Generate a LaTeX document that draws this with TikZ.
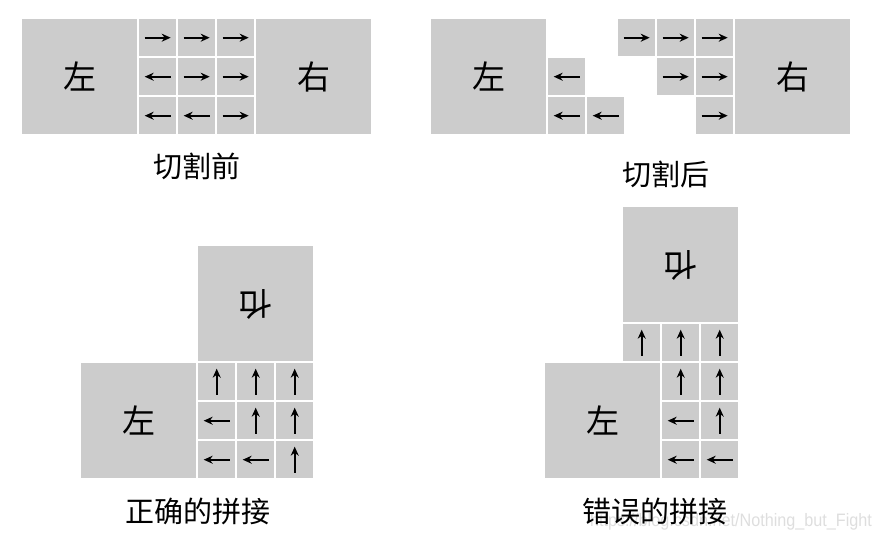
\documentclass[tikz,border=0pt]{standalone}
\usepackage{fontspec}
\usepackage{graphicx}
\setmainfont{Liberation Sans}
\newfontfamily\cjk{Noto Sans CJK SC}
\usetikzlibrary{arrows.meta}
\definecolor{boxgray}{RGB}{204,204,204}
\definecolor{wmgray}{RGB}{222,222,222}
\tikzset{
  big/.style={fill=boxgray, draw=none, minimum size=115pt, inner sep=0pt, anchor=north west,
              font=\cjk\fontsize{33}{33}\selectfont},
  cellbox/.style={fill=boxgray, draw=none, minimum size=37pt, inner sep=0pt, anchor=north west},
  arr/.style={line width=2.3pt, -{Stealth[length=9pt,width=8pt]}},
  captext/.style={font=\cjk\fontsize{29}{29}\selectfont, inner sep=0pt},
  wm/.style={font=\fontsize{18}{18}\selectfont, text=wmgray, inner sep=0pt},
}
\newcommand\cellR[3]{\node[cellbox] (#1) at (#2,#3) {};
  \draw[arr] ([xshift=-13pt]#1.center) -- ([xshift=13pt]#1.center);}
\newcommand\cellL[3]{\node[cellbox] (#1) at (#2,#3) {};
  \draw[arr] ([xshift=13pt]#1.center) -- ([xshift=-13pt]#1.center);}
\newcommand\cellU[3]{\node[cellbox] (#1) at (#2,#3) {};
  \draw[arr] ([yshift=-13pt]#1.center) -- ([yshift=13pt]#1.center);}
\newcommand\flipyou{\reflectbox{\rotatebox{90}{右}}}
\begin{document}
\begin{tikzpicture}[x=1pt,y=-1pt]
\useasboundingbox (0,0) rectangle (882,541);
% ---- before cutting
\node[big] (tlL) at (22,19) {左};
\cellR{tla}{139}{19} \cellR{tlb}{178}{19} \cellR{tlc}{217}{19}
\cellL{tld}{139}{58} \cellR{tle}{178}{58} \cellR{tlf}{217}{58}
\cellL{tlg}{139}{97} \cellL{tlh}{178}{97} \cellR{tli}{217}{97}
\node[big] (tlR) at (256,19) {右};
\node[captext] (cap1) at (197,166) {切割前};
% ---- after cutting
\node[big] (trL) at (431,19) {左};
\cellL{trd}{548}{58} \cellL{trg}{548}{97} \cellL{trh}{587}{97}
\cellR{tra}{618}{19} \cellR{trb}{657}{19} \cellR{trc}{696}{19}
\cellR{tre}{657}{58} \cellR{trf}{696}{58} \cellR{tri}{696}{97}
\node[big] (trR) at (735,19) {右};
\node[captext] (cap2) at (666,174) {切割后};
% ---- correct stitching
\node[big] (blR) at (198,246) {\flipyou};
\node[big] (blL) at (81,363) {左};
\cellU{bla}{198}{363} \cellU{blb}{237}{363} \cellU{blc}{276}{363}
\cellL{bld}{198}{402} \cellU{ble}{237}{402} \cellU{blf}{276}{402}
\cellL{blg}{198}{441} \cellL{blh}{237}{441} \cellU{bli}{276}{441}
\node[captext] (cap3) at (198,511) {正确的拼接};
% ---- wrong stitching
\node[big] (brR) at (623,207) {\flipyou};
\cellU{bra}{623}{324} \cellU{brb}{662}{324} \cellU{brc}{701}{324}
\node[big] (brL) at (545,363) {左};
\cellU{bre}{662}{363} \cellU{brf}{701}{363}
\cellL{brh}{662}{402} \cellU{bri}{701}{402}
\cellL{brk}{662}{441} \cellL{brl}{701}{441}
\node[wm] (wmark) at (731,522) {\scalebox{0.9}[1]{https://blog.csdn.net/Nothing\_but\_Fight}};
\node[captext] (cap4) at (655,511) {错误的拼接};
\end{tikzpicture}
\end{document}
